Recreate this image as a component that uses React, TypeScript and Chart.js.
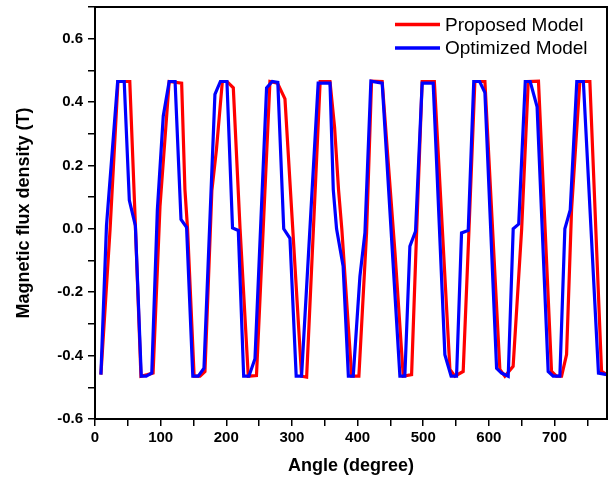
import { useEffect, useRef } from "react";
import { Chart, registerables } from "chart.js";

Chart.register(...registerables);

const proposedAngle = [
  9, 23, 35, 53, 61, 70, 80, 88.5, 99, 113, 132, 137, 141, 151, 160, 167.5, 178, 185, 194, 201,
  210.7, 221, 233.5, 246, 266.5, 278, 289.4, 314.7, 322.4, 343, 358, 365, 371, 376, 391, 402,
  413.7, 421.3, 437.5, 457, 469.6, 482.3, 489.9, 498.4, 517, 540.7, 548.3, 560.9, 569.6, 578.7,
  594, 616.8, 624.4, 637, 650, 660, 675.6, 695.5, 703, 710.8, 718.4, 726, 738.6, 753.9, 771.7, 780,
];
const proposedFlux = [
  -0.46, 0.0, 0.465, 0.465, 0.04, -0.465, -0.46, -0.455, 0.07, 0.465, 0.46, 0.124, 0.0, -0.465,
  -0.465, -0.45, 0.12, 0.25, 0.465, 0.465, 0.445, 0.0, -0.465, -0.463, 0.465, 0.46, 0.41, -0.465,
  -0.468, 0.465, 0.465, 0.32, 0.124, 0.0, -0.465, -0.465, -0.013, 0.466, 0.465, -0.075, -0.465,
  -0.46, -0.013, 0.465, 0.465, -0.444, -0.465, -0.45, -0.01, 0.465, 0.465, -0.444, -0.465, -0.434,
  0.0, 0.465, 0.466, -0.45, -0.465, -0.465, -0.397, 0.06, 0.465, 0.465, -0.45, -0.46,
];

const optimizedAngle = [
  9, 17.5, 34.5, 44.5, 52.3, 61.5, 70.5, 78, 86.5, 95, 104, 113, 122, 131, 139.5, 149, 157.3, 166,
  182.7, 191, 201, 209.5, 218.3, 226.5, 234.5, 243.7, 261.4, 270, 278.5, 287.5, 297, 306.5, 314.7,
  340, 358, 363, 368, 378, 386, 393.4, 403.6, 411.2, 420.3, 437.5, 464.5, 472, 479.7, 488.3, 498.4,
  515.2, 533, 542.5, 550.8, 558.4, 568.6, 577, 586, 594, 611.8, 619.4, 629.5, 637.1, 645.5, 655.5,
  663, 673.5, 690.4, 698, 708.2, 715.8, 724, 734, 744, 767, 780,
];
const optimizedFlux = [
  -0.46, 0.01, 0.465, 0.465, 0.09, 0.01, -0.465, -0.465, -0.455, 0.06, 0.356, 0.465, 0.465, 0.03,
  0.005, -0.465, -0.465, -0.44, 0.424, 0.465, 0.465, 0.003, -0.005, -0.465, -0.465, -0.41, 0.445,
  0.465, 0.462, 0.0, -0.03, -0.465, -0.465, 0.46, 0.46, 0.124, 0.0, -0.118, -0.465, -0.465, -0.15,
  -0.013, 0.466, 0.46, -0.465, -0.465, -0.055, -0.008, 0.46, 0.46, -0.397, -0.465, -0.465, -0.013,
  -0.005, 0.465, 0.465, 0.43, -0.44, -0.455, -0.465, 0.0, 0.015, 0.465, 0.465, 0.385, -0.45, -0.465,
  -0.465, 0.0, 0.06, 0.465, 0.465, -0.455, -0.46,
];

const seriesLabels = ["Proposed Model", "Optimized Model"];
const seriesColors = ["#ff0000", "#0000ff"];
const xTitle = "Angle (degree)";
const yTitle = "Magnetic flux density (T)";

const FONT = '"Liberation Sans", Arial, Helvetica, sans-serif';

const frameLegendPlugin = {
  id: "frameLegend",
  afterDraw(chart: any) {
    const { ctx, chartArea } = chart;
    const { left, top, right, bottom } = chartArea;
    ctx.save();
    ctx.strokeStyle = "#000";
    ctx.lineWidth = 2;
    ctx.strokeRect(left, top, right - left, bottom - top);

    ctx.font = `19px ${FONT}`;
    ctx.textBaseline = "middle";
    ctx.textAlign = "left";
    const lineX0 = right - 212;
    const lineX1 = right - 167;
    const textX = right - 162;
    chart.data.datasets.forEach((d: any, i: number) => {
      const y = top + 17.5 + i * 23.5;
      ctx.strokeStyle = d.borderColor;
      ctx.lineWidth = 3.5;
      ctx.beginPath();
      ctx.moveTo(lineX0, y);
      ctx.lineTo(lineX1, y);
      ctx.stroke();
      ctx.fillStyle = "#000";
      ctx.fillText(d.label, textX, y + 1);
    });
    ctx.restore();
  },
};

export default function App() {
  const canvasRef = useRef<HTMLCanvasElement | null>(null);

  useEffect(() => {
    if (!canvasRef.current) return;
    Chart.defaults.font.family = FONT;
    Chart.defaults.color = "#000";

    const proposed = proposedAngle.map((x, i) => ({ x, y: proposedFlux[i] }));
    const optimized = optimizedAngle.map((x, i) => ({ x, y: optimizedFlux[i] }));

    const chart = new Chart(canvasRef.current, {
      type: "line",
      data: {
        datasets: [
          {
            label: seriesLabels[0],
            data: proposed,
            borderColor: seriesColors[0],
            backgroundColor: seriesColors[0],
            borderWidth: 3.2,
            pointRadius: 0,
            tension: 0,
            order: 2,
          },
          {
            label: seriesLabels[1],
            data: optimized,
            borderColor: seriesColors[1],
            backgroundColor: seriesColors[1],
            borderWidth: 3.2,
            pointRadius: 0,
            tension: 0,
            order: 1,
          },
        ],
      },
      options: {
        responsive: false,
        maintainAspectRatio: false,
        animation: false,
        devicePixelRatio: 1,
        layout: { padding: { left: 0, right: 6, top: 7, bottom: 0 } },
        plugins: {
          legend: { display: false },
          tooltip: { enabled: false },
        },
        scales: {
          x: {
            type: "linear",
            min: 0,
            max: 780,
            afterFit: (s: any) => {
              s.height = 60;
              s.paddingLeft = 0;
              s.paddingRight = 0;
            },
            ticks: {
              stepSize: 50,
              includeBounds: false,
              autoSkip: false,
              maxRotation: 0,
              padding: 3,
              color: "#000",
              font: { size: 15, weight: "bold" },
              callback: (v: any) => (Math.round(v) % 100 === 0 ? String(Math.round(v)) : ""),
            },
            grid: { drawOnChartArea: false, drawTicks: true, tickLength: 7, color: "#000", lineWidth: 1.5 },
            border: { display: true, color: "#000", width: 2 },
            title: {
              display: true,
              text: xTitle,
              color: "#000",
              font: { size: 18, weight: "bold" },
              padding: { top: 0, bottom: 2 },
            },
          },
          y: {
            type: "linear",
            min: -0.6,
            max: 0.7,
            afterFit: (s: any) => {
              s.width = 95;
              s.paddingTop = 0;
              s.paddingBottom = 0;
            },
            ticks: {
              stepSize: 0.1,
              includeBounds: false,
              autoSkip: false,
              padding: 5,
              color: "#000",
              font: { size: 15, weight: "bold" },
              callback: (v: any) => {
                const k = Math.round(v * 10);
                return k % 2 === 0 && k <= 6 ? (k / 10).toFixed(1) : "";
              },
            },
            grid: { drawOnChartArea: false, drawTicks: true, tickLength: 7, color: "#000", lineWidth: 1.5 },
            border: { display: true, color: "#000", width: 2 },
            title: {
              display: true,
              text: yTitle,
              color: "#000",
              font: { size: 18, weight: "bold" },
              padding: { top: 13, bottom: 0 },
            },
          },
        },
      },
      plugins: [frameLegendPlugin],
    });

    return () => chart.destroy();
  }, []);

  return (
    <div style={{ position: "fixed", left: 0, top: 0, width: 613, height: 479, background: "#fff" }}>
      <canvas ref={canvasRef} width={613} height={479} style={{ display: "block" }} />
    </div>
  );
}
